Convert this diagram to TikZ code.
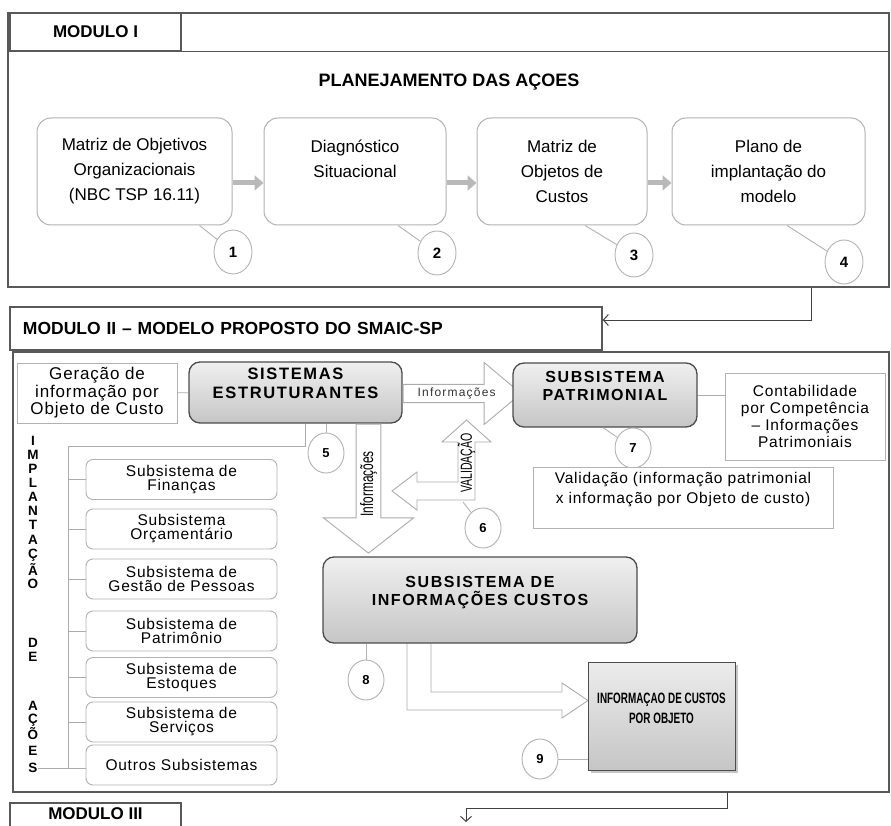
\documentclass[tikz,border=0pt]{standalone}
\usepackage{fontspec}
\setmainfont{Liberation Sans}
\newfontfamily\spacedfont[LetterSpace=5]{Liberation Sans}
\newfontfamily\widefont[LetterSpace=10]{Liberation Sans}
\newfontfamily\condfont[FakeStretch=0.66]{Liberation Sans}
\usetikzlibrary{arrows.meta,shapes.geometric,shapes.arrows,shadows}

\tikzset{
  frame/.style={draw=black!65, line width=1.4pt},
  tab/.style={frame, fill=white, inner sep=0pt, font=\bfseries\fontsize{17}{20}\selectfont},
  planbox/.style={draw=gray!60, line width=1pt, rounded corners=14pt, fill=white, minimum height=107pt,
    align=center, inner sep=0pt, font=\fontsize{17}{25}\selectfont},
  planarrow/.style={-{Triangle[length=9pt,width=15pt]}, line width=5pt, draw=gray!55},
  numcirc/.style={ellipse, draw=gray!60, fill=white, line width=0.9pt, minimum width=38pt,
    minimum height=44pt, inner sep=0pt, font=\bfseries\fontsize{15}{15}\selectfont},
  smallnum/.style={numcirc, minimum width=36pt, minimum height=40pt, font=\bfseries\fontsize{13}{13}\selectfont},
  numline/.style={draw=gray!60, line width=0.9pt},
  graybox/.style={draw=black!70, line width=1.3pt, rounded corners=11pt, top color=gray!12,
    bottom color=gray!45, align=center, inner sep=0pt, font=\widefont\bfseries\fontsize{16}{18}\selectfont},
  plainbox/.style={draw=gray!60, line width=0.9pt, fill=white, align=center, inner sep=0pt,
    font=\spacedfont\fontsize{15.5}{17.3}\selectfont},
  subbox/.style={plainbox, rounded corners=7pt, minimum width=191pt, minimum height=40pt,
    font=\spacedfont\fontsize{15.5}{14}\selectfont},
  hollow/.style={draw=gray!65, line width=0.9pt, fill=white},
  wire/.style={draw=gray!65, line width=0.9pt},
  flow/.style={draw=black!75, line width=1pt, -{Straight Barb[length=5pt,width=11pt]}},
  letter/.style={font=\bfseries\fontsize{13.5}{13.5}\selectfont, inner sep=0pt}
}

\begin{document}
\begin{tikzpicture}[x=1pt,y=-1pt]
\useasboundingbox (0,0) rectangle (891,826);

% modulo I
\node[frame, minimum width=881pt, minimum height=274pt] (modI) at (448.5,150) {};
\node[tab, minimum width=171pt, minimum height=38pt] (tabI) at (95.5,32) {MODULO I};
\draw[frame] (tabI.south west) -- (tabI.south west -| modI.east);
\node[font=\bfseries\fontsize{18}{20}\selectfont] (planTitle) at (449,82) {PLANEJAMENTO DAS AÇOES};

\node[planbox, minimum width=195pt] (pb1) at (134.5,171.5) {Matriz de Objetivos\\Organizacionais\\(NBC TSP 16.11)};
\node[planbox, minimum width=182pt] (pb2) at (355,171.5) {Diagnóstico\\Situacional\\\mbox{}};
\node[planbox, minimum width=170pt] (pb3) at (562,171.5) {Matriz de\\Objetos de\\Custos};
\node[planbox, minimum width=193pt] (pb4) at (768.5,171.5) {Plano de\\implantação do\\modelo};
\draw[planarrow] ([yshift=-11.5pt]pb1.east) -- ([yshift=-11.5pt]pb2.west);
\draw[planarrow] ([yshift=-11.5pt]pb2.east) -- ([yshift=-11.5pt]pb3.west);
\draw[planarrow] ([yshift=-11.5pt]pb3.east) -- ([yshift=-11.5pt]pb4.west);

\node[numcirc] (n1) at (233,252) {1};
\node[numcirc] (n2) at (437,253) {2};
\node[numcirc] (n3) at (634,255) {3};
\node[numcirc] (n4) at (844,262) {4};
\draw[numline] ([xshift=65pt]pb1.south) -- (n1);
\draw[numline] ([xshift=43pt]pb2.south) -- (n2);
\draw[numline] ([xshift=23pt]pb3.south) -- (n3);
\draw[numline] ([xshift=18.5pt]pb4.south) -- (n4);

% modulo II
\node[frame, minimum width=876pt, minimum height=440pt] (modII) at (451,572) {};
\node[tab, minimum width=592pt, minimum height=43pt, text width=566pt, align=left,
  font=\bfseries\fontsize{17.5}{20}\selectfont] (tabII) at (306,328.5) {MODULO II – MODELO PROPOSTO DO SMAIC-SP};
\draw[flow] ([xshift=362.5pt]modI.south) |- ([yshift=8.5pt]tabII.east);

\node[plainbox, minimum width=160pt, minimum height=60pt, font=\spacedfont\fontsize{17}{17.5}\selectfont]
  (gera) at (97,393) {Geração de\\informação por\\Objeto de Custo};
\node[graybox, minimum width=213pt, minimum height=61pt, font=\widefont\bfseries\fontsize{16.5}{19}\selectfont]
  (sisEst) at (295.5,392.5) {SISTEMAS\\ESTRUTURANTES\\\mbox{}};
\draw[wire] (gera) -- (sisEst);

\node[hollow, single arrow, single arrow head extend=14.5pt, single arrow tip angle=80, minimum height=118pt,
  minimum width=62pt, inner sep=0pt, anchor=tail, font=\widefont\fontsize{12}{12}\selectfont, text=black!80]
  (infH) at ([yshift=-1pt]sisEst.east) {Informações};
\node[graybox, minimum width=184pt, minimum height=64pt] (patr) at (605,395) {SUBSISTEMA\\PATRIMONIAL\\\mbox{}};
\node[plainbox, minimum width=160pt, minimum height=87pt] (contab) at (805,416.5)
  {Contabilidade\\por Competência\\– Informações\\Patrimoniais};
\draw[wire] (patr.east) -- (patr.east -| contab.west);
\node[smallnum] (n7) at (633,448) {7};
\draw[numline] ([xshift=-2pt]patr.south) -- (n7);
\node[plainbox, minimum width=300pt, minimum height=61pt, font=\spacedfont\fontsize{15.5}{20}\selectfont]
  (valid) at (683,497.5) {Validação (informação patrimonial\\x informação por Objeto de custo)\\\mbox{}};

\node[hollow, single arrow, shape border rotate=180, rotate=90, single arrow head extend=23.5pt,
  single arrow tip angle=104, minimum height=129pt, minimum width=90pt, inner sep=0pt, anchor=tail,
  font=\condfont\fontsize{18}{18}\selectfont] (infV) at ([xshift=73pt]sisEst.south) {Informações};
\node[smallnum] (n5) at (326,453) {5};
\draw[numline] (sisEst.south -| n5) -- (n5);

% validacao
\draw[hollow] (392,491) -- (417,472) -- (417,482) -- (458,482) -- (458,442) -- (442,442) -- (466.5,420)
  -- (491,442) -- (475,442) -- (475,500) -- (417,500) -- (417,510) -- cycle;
\node[rotate=90, font=\condfont\fontsize{16}{16}\selectfont, inner sep=0pt] (valTxt) at (466.5,463) {VALIDAÇÃO};
\node[smallnum] (n6) at (483,528) {6};
\coordinate (valFoot) at (463,502);
\draw[numline] (valFoot) -- (n6);

% custos
\draw[hollow] (407,643) -- (407,710) -- (562,710) -- (562,718) -- (588,700.5) -- (562,683) -- (562,692)
  -- (431,692) -- (431,643);
\node[graybox, minimum width=314pt, minimum height=86pt] (custos) at (480,600)
  {SUBSISTEMA DE\\INFORMAÇÕES CUSTOS\\\mbox{}};
\node[smallnum] (n8) at (366,680) {8};
\draw[numline] (custos.south -| n8) -- (n8);
\node[draw=black!70, line width=1pt, top color=gray!15, bottom color=gray!45,
  drop shadow={shadow xshift=3pt, shadow yshift=-3pt, opacity=0.45}, minimum width=147pt, minimum height=108pt,
  align=center, inner sep=0pt, font=\condfont\bfseries\fontsize{15}{20}\selectfont]
  (infObj) at (661.5,716) {INFORMAÇAO DE CUSTOS\\POR OBJETO\\[-4pt]\mbox{}};
\node[smallnum] (n9) at (540,759) {9};
\draw[numline] (n9) -- (n9 -| infObj.west);

% implantacao de acoes
\foreach \ch/\yy [count=\k] in {I/441, M/455, P/469, L/483, A/497, N/511, T/525, A/540, Ç/555, Ã/569,
  O/584, D/643, E/657, A/706, Ç/720, Õ/734, E/751, S/768}
  \node[letter] (L\k) at (33,\yy) {\ch};
\foreach \txt/\yy [count=\k] in {{Subsistema de\\Finanças}/479.5, {Subsistema\\Orçamentário}/529,
  {Subsistema de\\Gestão de Pessoas}/579, {Subsistema de\\Patrimônio}/631, {Subsistema de\\Estoques}/677.5,
  {Subsistema de\\Serviços}/722, {Outros Subsistemas}/765}
  \node[subbox] (sub\k) at (181.5,\yy) {\txt};
\coordinate (trunk) at (68,446);
\coordinate (brk) at (305,446);
\draw[wire] (sisEst.south -| brk) -- (brk) -- (trunk) -- (trunk |- L18);
\foreach \k in {1,...,6}
  \draw[wire] (trunk |- sub\k.west) -- (sub\k.west);
\draw[wire] (L18.east) -- (L18.east -| sub7.west);

% modulo III
\coordinate (outII) at (727,792);
\coordinate (inIII) at (466,822);
\draw[flow] (outII) -- ++(0,16) -| (inIII);
\node[font=\bfseries\fontsize{17}{20}\selectfont] (tabIII) at (95.5,814) {MODULO III};
\draw[frame] (10,830) |- (181,803) -- (181,830);
\end{tikzpicture}
\end{document}
